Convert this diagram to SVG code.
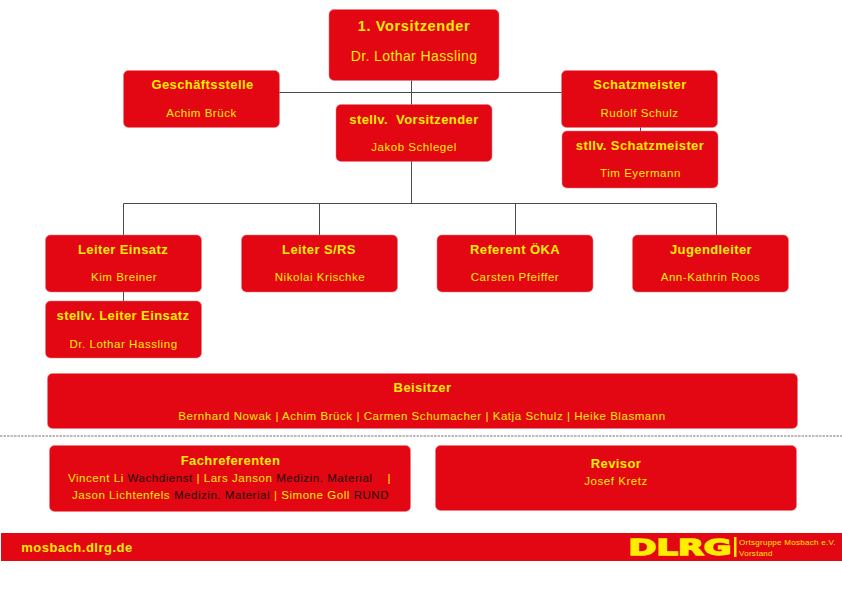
<svg xmlns="http://www.w3.org/2000/svg" width="842" height="595" viewBox="0 0 842 595">
<style>
text{font-family:"Liberation Sans",Arial,sans-serif;text-anchor:middle;fill:#ffed00}
.b{fill:#e30613;stroke:#ec7a80;stroke-width:.5}
.t{font-weight:bold;font-size:13px;letter-spacing:.4px}
.n{font-size:11.500px;letter-spacing:.55px}
.k{fill:#1a0a0a}
.c{stroke:#4a4a4a;stroke-width:1;fill:none}
</style>
<rect width="842" height="595" fill="#fff"/>
<g id="connectors">
<path class="c" d="M411.500 80V105M279 92.500H562M411.500 161V203M123.500 235V203.500H716.500V235M319.500 203.500V235M515.500 203.500V235M123.500 291V301M640.500 127V131"/>
<path d="M0 436H842" stroke="#777" stroke-width="1" stroke-dasharray="2.500 1" fill="none"/>
</g>
<g id="vorsitzender"><rect class="b" x="329" y="9.500" width="170" height="71" rx="5"/>
<text x="414" y="30.500" style="font-weight:bold;font-size:14.500px;letter-spacing:.65px">1. Vorsitzender</text>
<text x="414" y="61" style="font-size:14px;letter-spacing:.4px">Dr. Lothar Hassling</text></g>
<g id="geschaeftsstelle"><rect class="b" x="123.500" y="70.500" width="156" height="57" rx="5"/>
<text class="t" x="202.500" y="89">Geschäftsstelle</text><text class="n" x="201.500" y="117">Achim Brück</text></g>
<g id="schatzmeister"><rect class="b" x="561.500" y="70.500" width="156" height="57" rx="5"/>
<text class="t" x="640" y="89">Schatzmeister</text><text class="n" x="639.500" y="117">Rudolf Schulz</text></g>
<g id="stellv-vorsitzender"><rect class="b" x="336" y="104.500" width="156" height="57" rx="5"/>
<text class="t" x="414" y="124" xml:space="preserve">stellv.  Vorsitzender</text><text class="n" x="414" y="151">Jakob Schlegel</text></g>
<g id="stllv-schatzmeister"><rect class="b" x="562" y="131" width="156" height="57" rx="5"/>
<text class="t" x="640" y="150">stllv. Schatzmeister</text><text class="n" x="640.500" y="177">Tim Eyermann</text></g>
<g id="leiter-einsatz"><rect class="b" x="45.500" y="235" width="156" height="57" rx="5"/>
<text class="t" x="123" y="254">Leiter Einsatz</text><text class="n" x="124" y="281">Kim Breiner</text></g>
<g id="leiter-srs"><rect class="b" x="241.500" y="235" width="156" height="57" rx="5"/>
<text class="t" x="319" y="254">Leiter S/RS</text><text class="n" x="320" y="281">Nikolai Krischke</text></g>
<g id="referent-oeka"><rect class="b" x="437" y="235" width="156" height="57" rx="5"/>
<text class="t" x="515" y="254">Referent ÖKA</text><text class="n" x="515" y="281">Carsten Pfeiffer</text></g>
<g id="jugendleiter"><rect class="b" x="632.500" y="235" width="156" height="57" rx="5"/>
<text class="t" x="711" y="254">Jugendleiter</text><text class="n" x="710.500" y="281">Ann-Kathrin Roos</text></g>
<g id="stellv-leiter-einsatz"><rect class="b" x="45.500" y="301" width="156" height="57" rx="5"/>
<text class="t" x="123" y="320">stellv. Leiter Einsatz</text><text class="n" x="123.500" y="348">Dr. Lothar Hassling</text></g>
<g id="beisitzer"><rect class="b" x="47.500" y="373.500" width="750" height="55" rx="5"/>
<text class="t" x="422.500" y="392">Beisitzer</text><text class="n" x="422" y="420">Bernhard Nowak | Achim Brück | Carmen Schumacher | Katja Schulz | Heike Blasmann</text></g>
<g id="fachreferenten"><rect class="b" x="49.500" y="445.500" width="361" height="66" rx="5"/>
<text class="t" x="230.500" y="465">Fachreferenten</text>
<text class="n" x="229.500" y="482" xml:space="preserve">Vincent Li <tspan class="k">Wachdienst</tspan> | Lars Janson <tspan class="k">Medizin. Material</tspan>    |</text>
<text class="n" x="230.500" y="499">Jason Lichtenfels <tspan class="k">Medizin. Material</tspan> | Simone Goll <tspan class="k">RUND</tspan></text></g>
<g id="revisor"><rect class="b" x="435.500" y="445.500" width="361" height="65" rx="5"/>
<text class="t" x="616" y="468">Revisor</text><text class="n" x="616" y="485">Josef Kretz</text></g>
<g id="footer"><rect x="1" y="533" width="841" height="28" fill="#e30613"/>
<text x="77" y="552" style="font-weight:bold;font-size:13px;letter-spacing:.5px">mosbach.dlrg.de</text>
<text x="680" y="555" style="font-family:'DejaVu Sans',sans-serif;font-weight:bold;font-size:21px" textLength="103" lengthAdjust="spacingAndGlyphs" stroke="#ffed00" stroke-width="1.400">DLRG</text>
<rect x="734" y="537" width="2.500" height="20" fill="#ffed00"/>
<text x="739" y="545" style="font-size:8px;text-anchor:start;letter-spacing:.28px">Ortsgruppe Mosbach e.V.</text>
<text x="739" y="556" style="font-size:8px;text-anchor:start;letter-spacing:.28px">Vorstand</text></g>
</svg>
